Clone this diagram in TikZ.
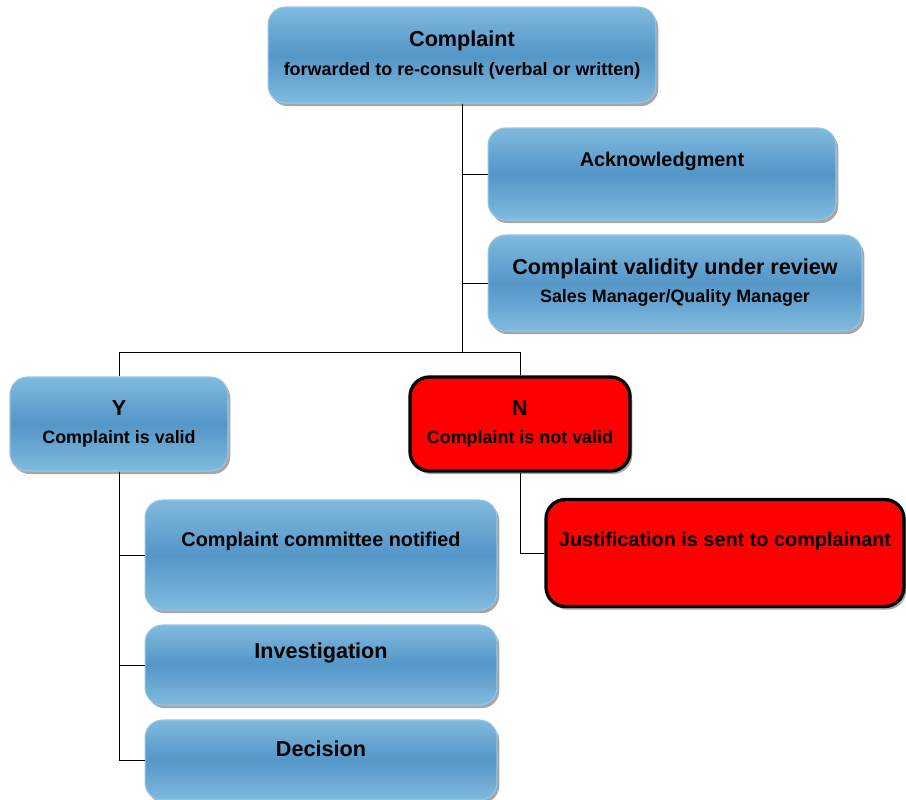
\documentclass[tikz,border=0pt]{standalone}
\usepackage{fontspec}
\setmainfont{Liberation Sans}
\usepackage{tikz}
\usetikzlibrary{positioning,shadows}

\definecolor{boxlight}{RGB}{128,186,222}
\definecolor{boxmid}{RGB}{84,150,200}
\definecolor{boxedge}{RGB}{150,198,230}

\tikzset{
  stage/.style = {rectangle, rounded corners=10pt, draw=boxedge, line width=0.6pt,
    top color=boxlight, bottom color=boxlight, middle color=boxmid,
    drop shadow={shadow xshift=1.3pt, shadow yshift=-1.8pt, fill=black!35, opacity=1},
    font=\bfseries, align=center, inner sep=0pt},
  reject/.style = {rectangle, rounded corners=11pt, draw=black, line width=1.9pt,
    fill=red,
    drop shadow={shadow xshift=1.3pt, shadow yshift=-1.8pt, fill=black!35, opacity=1},
    font=\bfseries, align=center, inner sep=0pt},
  big/.style = {font=\bfseries\fontsize{12.3}{14}\selectfont},
  mid/.style = {font=\bfseries\fontsize{11.3}{13}\selectfont},
}
\newcommand{\headtxt}[1]{{\fontsize{12.3}{14}\selectfont #1}}
\newcommand{\subtxt}[1]{{\fontsize{10.2}{12}\selectfont #1}}

\begin{document}
\begin{tikzpicture}[x=0.02cm, y=-0.02cm]
\useasboundingbox (0,0) rectangle (906,799);
\node (top) [stage, minimum width=7.76cm, minimum height=1.92cm] at (462,55)
  {\headtxt{Complaint}\\[4pt]\subtxt{forwarded to re-consult (verbal or written)}};
\node (ack) [stage, minimum width=6.96cm, minimum height=1.84cm,
  label={[mid, yshift=7.4pt]center:Acknowledgment}] at (662,174) {};
\node (valid) [stage, minimum width=7.48cm, minimum height=1.92cm] at (675,283)
  {\headtxt{Complaint validity under review}\\[4pt]\subtxt{Sales Manager/Quality Manager}};
\node (yes) [stage, minimum width=4.36cm, minimum height=1.88cm] at (119,424)
  {\headtxt{Y}\\[4pt]\subtxt{Complaint is valid}};
\node (no) [reject, minimum width=4.40cm, minimum height=1.88cm] at (520,424)
  {\headtxt{N}\\[4pt]\subtxt{Complaint is not valid}};
\node (just) [reject, minimum width=7.16cm, minimum height=2.14cm,
  label={[mid, yshift=6.8pt]center:Justification is sent to complainant}] at (725,553) {};
\node (comm) [stage, minimum width=7.04cm, minimum height=2.20cm,
  label={[mid, yshift=8pt]center:Complaint committee notified}] at (321,555) {};
\node (inv) [stage, minimum width=7.04cm, minimum height=1.60cm,
  label={[big, yshift=6.8pt]center:Investigation}] at (321,665) {};
\node (dec) [stage, minimum width=7.04cm, minimum height=1.60cm,
  label={[big, yshift=6.2pt]center:Decision}] at (321,760) {};
\coordinate (split) at (top.south |- 0,352);
% connectors
\draw [thin] (top.south) |- (ack.west);
\draw [thin] (top.south) |- (valid.west);
\draw [thin] (top.south) -- (split) -| (yes.north);
\draw [thin] (split) -| (no.north);
\draw [thin] (yes.south) |- (comm.west);
\draw [thin] (yes.south) |- (inv.west);
\draw [thin] (yes.south) |- (dec.west);
\draw [thin] (no.south) |- (just.west);
\end{tikzpicture}
\end{document}
